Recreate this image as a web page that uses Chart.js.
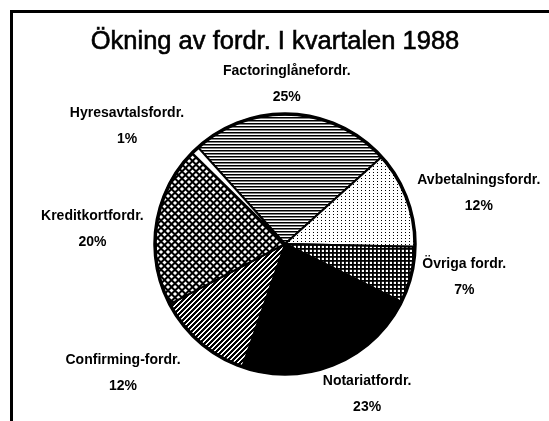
<!DOCTYPE html>
<html><head><meta charset="utf-8">
<script src="https://cdn.jsdelivr.net/npm/chart.js"></script>
<style>
html,body{margin:0;padding:0;background:#fff;}
#wrap{position:relative;width:549px;height:421px;overflow:hidden;background:#fff;}
#frame{position:absolute;left:10px;top:10px;width:700px;height:600px;border-left:3.5px solid #000;border-top:3px solid #000;}
canvas{position:absolute;left:0;top:0;}
</style></head><body>
<div id="wrap"><div id="frame"></div><canvas id="c" width="549" height="421"></canvas></div>
<script>
const categories = ['Factoringlånefordr.','Avbetalningsfordr.','Övriga fordr.','Notariatfordr.','Confirming-fordr.','Kreditkortfordr.','Hyresavtalsfordr.'];
const shares = [25, 12, 7, 23, 12, 20, 1];
const titleText = 'Ökning av fordr. I kvartalen 1988';

// layout of the label blocks relative to each slice's outer mid point
const labelOffsets = [[-5,-30],[72,-6],[53,2],[33,30],[-77,31],[-64,4],[-68,-24]];

const cv = document.getElementById('c');
const ctx = cv.getContext('2d');

function makePattern(w, h, draw) {
  const c = document.createElement('canvas');
  c.width = w; c.height = h;
  const g = c.getContext('2d');
  g.fillStyle = '#fff'; g.fillRect(0, 0, w, h);
  g.fillStyle = '#000';
  draw(g, w, h);
  return ctx.createPattern(c, 'repeat');
}
const pHoriz = makePattern(4, 3, g => { g.fillRect(0, 0, 4, 1.5); });
const pDots = makePattern(4, 3, g => { g.fillRect(1, 1, 1, 1); });
const pGrid = makePattern(4, 4, g => { g.fillRect(0, 0, 4, 1.8); g.fillRect(0, 0, 1.8, 4); });
const pSolid = '#000';
const pDiag = makePattern(5, 5, g => {
  g.fillRect(0, 0, 5, 5);
  g.fillStyle = '#fff';
  for (let i = 0; i < 5; i++) { g.fillRect(i, 4 - i, 1, 1); g.fillRect((i + 1) % 5, 4 - i, 1, 1); }
});
const pDiamond = makePattern(7, 7, g => {
  g.fillRect(0, 0, 7, 7);
  g.fillStyle = '#fff';
  const dia = (cx, cy, d) => { g.beginPath(); g.moveTo(cx, cy - d); g.lineTo(cx + d, cy); g.lineTo(cx, cy + d); g.lineTo(cx - d, cy); g.closePath(); g.fill(); };
  const d = 2.1;
  dia(3.5, 3.5, d); dia(0, 0, d); dia(7, 0, d); dia(0, 7, d); dia(7, 7, d);
});
const fills = [pHoriz, pDots, pGrid, pSolid, pDiag, pDiamond, '#fff'];

const textPlugin = {
  id: 'texts',
  afterDatasetsDraw(chart) {
    const c = chart.ctx;
    const meta = chart.getDatasetMeta(0);
    const a0 = meta.data[0];
    c.save();
    c.beginPath();
    c.arc(a0.x, a0.y, a0.outerRadius, 0, Math.PI * 2);
    c.lineWidth = 3.5; c.strokeStyle = '#000'; c.stroke();
    c.restore();
  },
  afterDraw(chart) {
    const c = chart.ctx;
    const meta = chart.getDatasetMeta(0);
    c.save();
    c.fillStyle = '#000';
    c.strokeStyle = '#000';
    c.textAlign = 'center';
    c.textBaseline = 'alphabetic';
    c.font = '25.5px "Liberation Sans", Arial, sans-serif';
    c.lineWidth = 0.6;
    c.fillText(titleText, 275, 49);
    c.strokeText(titleText, 275, 49);
    c.font = 'bold 14px "Liberation Sans", Arial, sans-serif';
    c.textBaseline = 'middle';
    meta.data.forEach((arc, i) => {
      const p = arc.getProps(['x','y','startAngle','endAngle','outerRadius'], true);
      const mid = (p.startAngle + p.endAngle) / 2;
      const px = p.x + Math.cos(mid) * p.outerRadius + labelOffsets[i][0];
      const py = p.y + Math.sin(mid) * p.outerRadius + labelOffsets[i][1];
      c.fillText(categories[i], px, py - 13);
      c.fillText(shares[i] + '%', px, py + 13);
    });
    c.restore();
  }
};

new Chart(cv, {
  type: 'pie',
  data: {
    labels: categories,
    datasets: [{
      data: shares,
      backgroundColor: fills,
      borderColor: '#000',
      borderWidth: 2
    }]
  },
  options: {
    responsive: false,
    animation: false,
    rotation: -42,
    radius: 130,
    layout: { padding: { top: 100, bottom: 33, left: 100, right: 79 } },
    plugins: { legend: { display: false }, tooltip: { enabled: false }, title: { display: false } }
  },
  plugins: [textPlugin]
});
</script>
</body></html>
